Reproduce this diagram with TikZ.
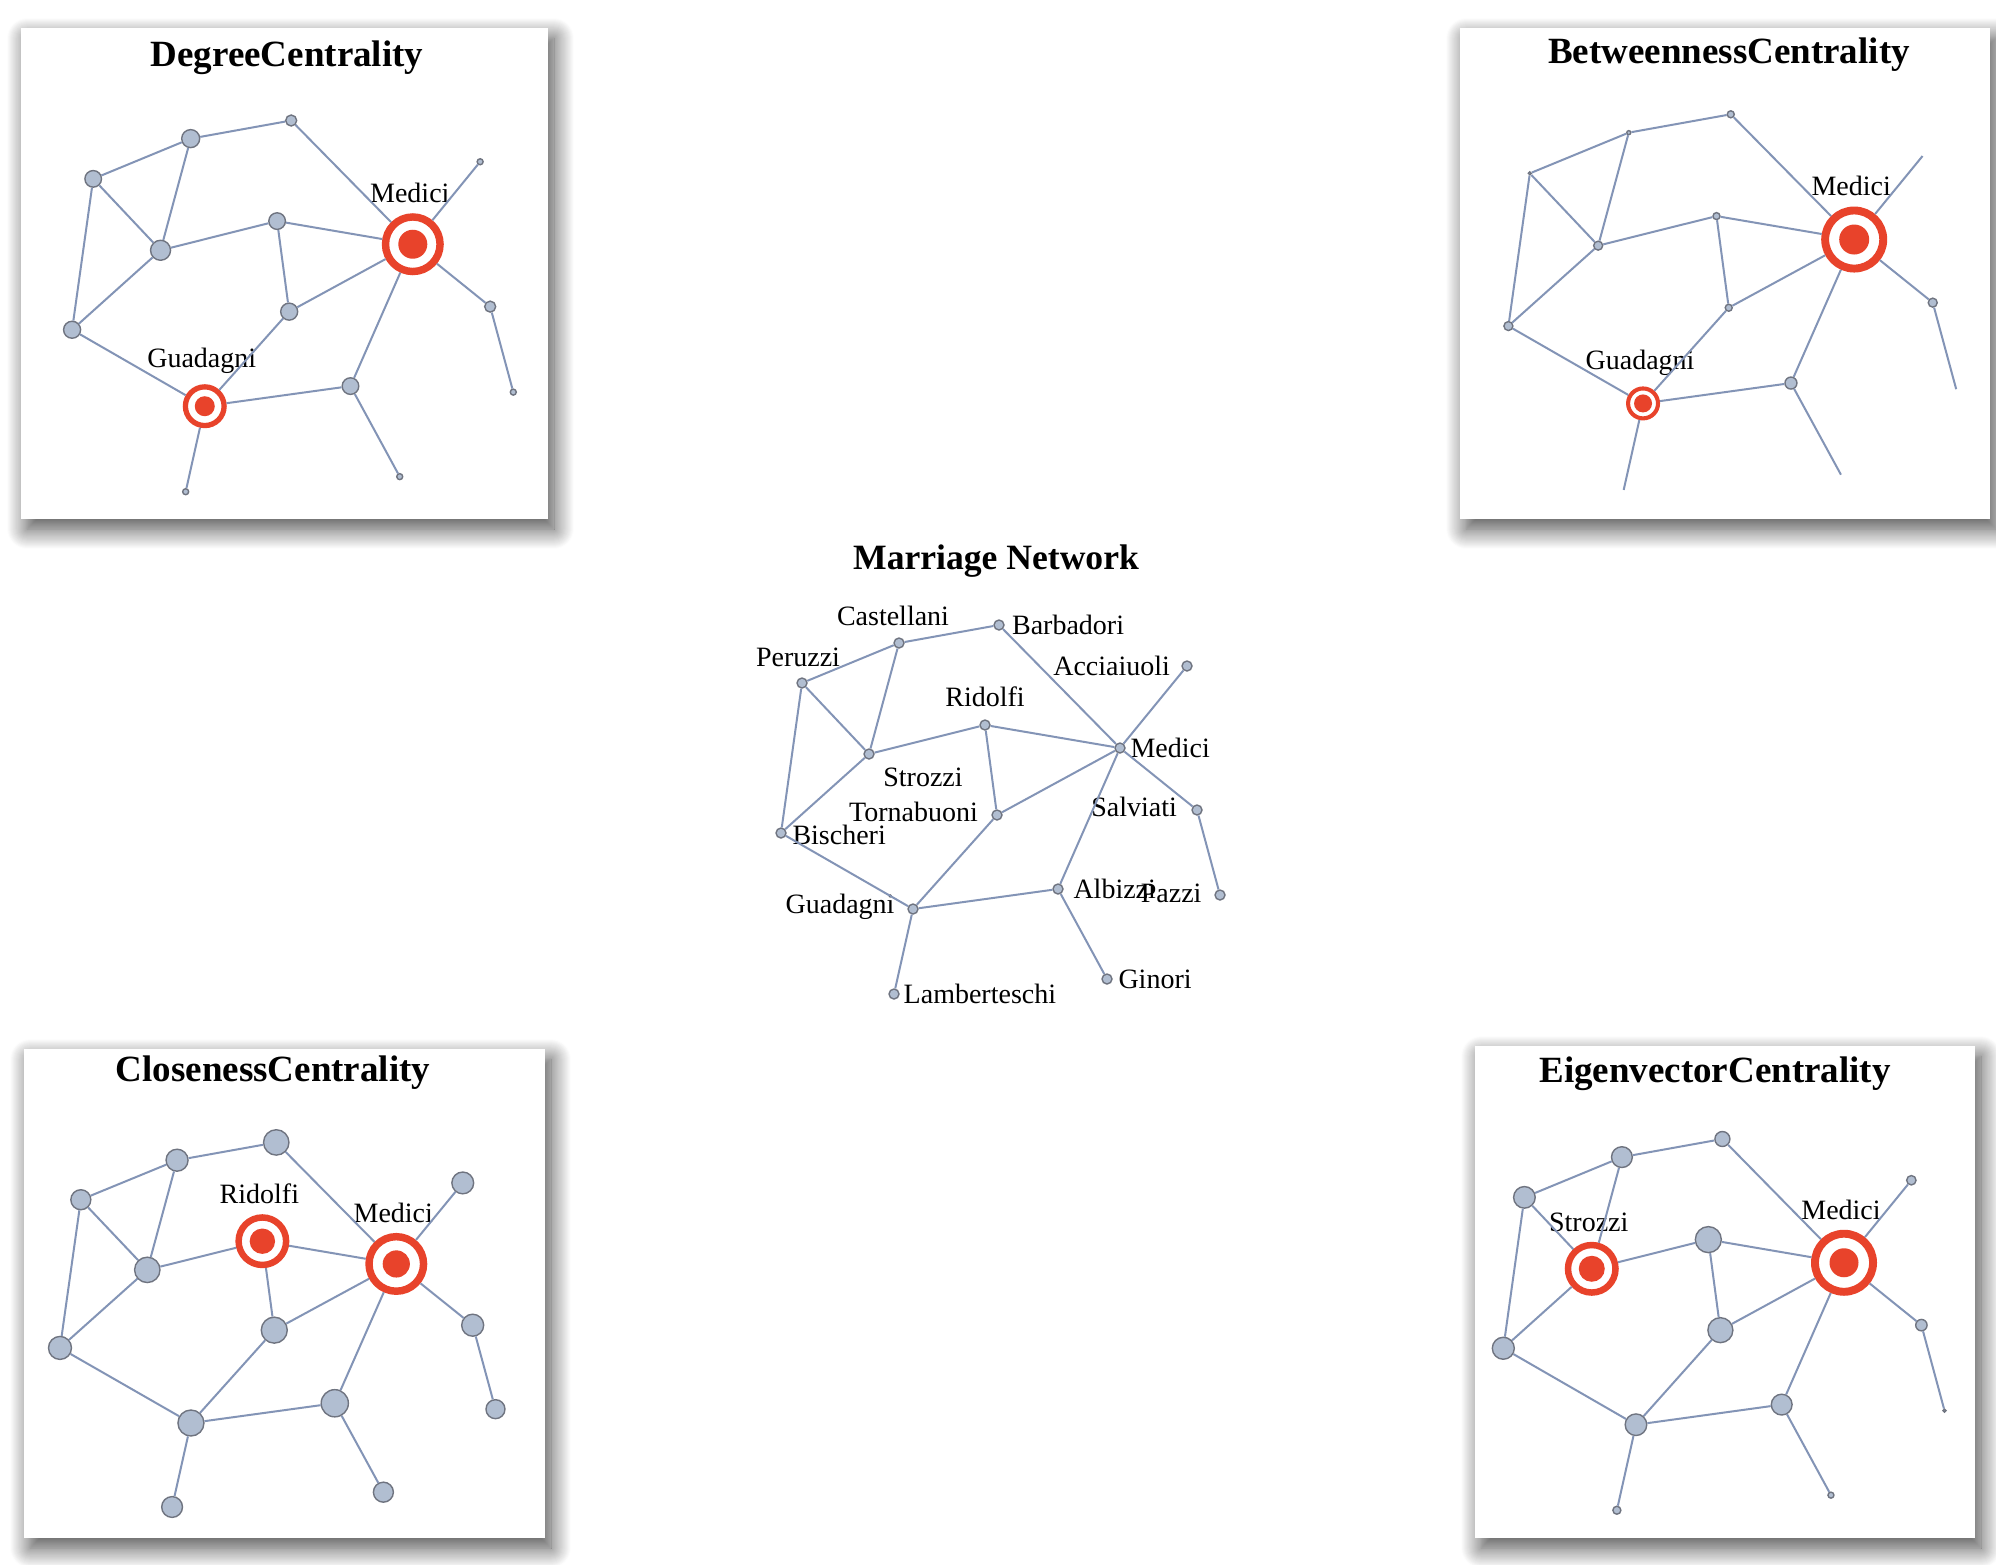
\documentclass[tikz,border=0pt]{standalone}
\usepackage{fontspec}
\setmainfont{Liberation Serif}
\usetikzlibrary{shadows.blur}

\definecolor{tiecol}{HTML}{8394B6}
\definecolor{dotfill}{HTML}{B1BED1}
\definecolor{dotrim}{HTML}{6F7480}
\definecolor{hired}{HTML}{E8432B}

\tikzset{
  tie/.style={draw=tiecol, line width=1pt},
  famdot/.style={circle, draw=dotrim, fill=dotfill, line width=0.7pt, inner sep=0pt, minimum size=#1pt},
  target/.style 2 args={circle, draw=hired, fill=white, inner sep=0pt,
    minimum size=0.88*#1pt, line width=0.12*#1pt,
    path picture={\fill[hired] (path picture bounding box.center) circle (0.5*#2pt);}},
  famtag/.style={font=\fontsize{14}{16}\selectfont, inner sep=0pt},
  paneltitle/.style={font=\bfseries\fontsize{#1}{21}\selectfont, anchor=base, inner sep=0pt},
  paneltitle/.default=18.5,
  panel/.style={fill=white, blur shadow={shadow xshift=3pt, shadow yshift=-5pt,
    shadow blur radius=10pt, shadow blur steps=20, shadow opacity=72}}
}

% layout of the families, relative to Bischeri (x) and Barbadori (y)
\def\famlayout{Castellani/118/18, Barbadori/218/0, Peruzzi/21/58, Acciaiuoli/406/41,
  Ridolfi/204/100, Medici/339/123, Strozzi/88/129, Tornabuoni/216/190, Salviati/416/185,
  Bischeri/0/208, Albizzi/277/264, Pazzi/439/270, Guadagni/132/284, Ginori/326/354,
  Lamberteschi/113/369}
\def\famties{Peruzzi/Castellani, Castellani/Barbadori, Castellani/Strozzi, Peruzzi/Strozzi,
  Peruzzi/Bischeri, Barbadori/Medici, Acciaiuoli/Medici, Strozzi/Ridolfi, Strozzi/Bischeri,
  Ridolfi/Medici, Ridolfi/Tornabuoni, Tornabuoni/Medici, Tornabuoni/Guadagni, Medici/Salviati,
  Salviati/Pazzi, Medici/Albizzi, Bischeri/Guadagni, Guadagni/Albizzi, Guadagni/Lamberteschi,
  Albizzi/Ginori}

% #1 prefix, #2 #3 origin, #4 #5 scale, #6 name/radius, #7 name/ring/dot
\newcommand{\centralitynet}[7]{%
  \foreach \nm/\x/\y in \famlayout
    \coordinate (#1\nm) at ({#2+#4*\x},{#3+#5*\y});
  \foreach \nm/\r in {#6}
    \node[famdot=\r] (#1\nm) at (#1\nm) {};
  \foreach \nm/\R/\r in {#7}
    \node[target={\R}{\r}, label={[famtag, label distance=5pt, xshift=-1.5pt]above:\nm}] (#1\nm) at (#1\nm) {};
  \foreach \a/\b in \famties
    \draw[tie] (#1\a) -- (#1\b);
}

\begin{document}
\begin{tikzpicture}[x=0.5pt, y=-0.5pt]
    \useasboundingbox (0,0) rectangle (1996,1564);

    % panels
    \path[panel] (21,28) rectangle (548,519);
    \path[panel] (1460,28) rectangle (1990,519);
    \path[panel] (24,1049) rectangle (545,1538);
    \path[panel] (1475,1046) rectangle (1975,1538);

    \node[paneltitle] (DC-title) at (287,66) {DegreeCentrality};
    \node[paneltitle] (BC-title) at (1729,63) {BetweennessCentrality};
    \node[paneltitle] (CC-title) at (273,1081) {ClosenessCentrality};
    \node[paneltitle] (EC-title) at (1715,1082) {EigenvectorCentrality};

    \centralitynet{DC-}{72.1}{120.5}{1.005}{1.006}
      {Castellani/9, Barbadori/5.5, Peruzzi/8.3, Acciaiuoli/3, Ridolfi/8.3, Strozzi/10,
       Tornabuoni/8.5, Salviati/5.5, Bischeri/8.5, Albizzi/8.3, Pazzi/3, Ginori/3, Lamberteschi/3}
      {Medici/31/14.5, Guadagni/22/10}
    \centralitynet{BC-}{1508.4}{114.3}{1.02}{1.018}
      {Castellani/2, Barbadori/3.5, Peruzzi/1.5, Ridolfi/3.5, Strozzi/4.5, Tornabuoni/3.5,
       Salviati/4.5, Bischeri/4.5, Albizzi/6}
      {Medici/33/15, Guadagni/17/9}
    \centralitynet{CC-}{60}{1142.4}{0.992}{0.988}
      {Castellani/11, Barbadori/12.7, Peruzzi/10, Acciaiuoli/10.9, Strozzi/12.7, Tornabuoni/13,
       Salviati/11, Bischeri/11.5, Albizzi/13.6, Pazzi/9.5, Guadagni/13, Ginori/10, Lamberteschi/10.4}
      {Ridolfi/27/12.7, Medici/31/13.6}
    \centralitynet{EC-}{1503.3}{1139}{1.005}{1.006}
      {Castellani/10.4, Barbadori/7.5, Peruzzi/10.8, Acciaiuoli/4.7, Ridolfi/13, Tornabuoni/12.5,
       Salviati/5.7, Bischeri/11, Albizzi/10.4, Pazzi/1.5, Guadagni/10.8, Ginori/3, Lamberteschi/4}
      {Strozzi/27/13, Medici/33/14.5}

    % marriage network
    \node[paneltitle=17.8] (net-title) at (996,569) {Marriage Network};
    \node[famdot=5, label={[famtag, label distance=5.5pt, xshift=-3pt]above:Castellani}] (Castellani) at (899,643) {};
    \node[famdot=5, label={[famtag, label distance=3.5pt]right:Barbadori}] (Barbadori) at (999,625) {};
    \node[famdot=5, label={[famtag, label distance=5pt, xshift=-2pt]above:Peruzzi}] (Peruzzi) at (802,683) {};
    \node[famdot=5, label={[famtag, label distance=5.5pt]left:Acciaiuoli}] (Acciaiuoli) at (1187,666) {};
    \node[famdot=5, label={[famtag, label distance=6pt]above:Ridolfi}] (Ridolfi) at (985,725) {};
    \node[famdot=5, label={[famtag, label distance=2.2pt]right:Medici}] (Medici) at (1120,748) {};
    \node[famdot=5, label={[famtag, label distance=7pt]below right:Strozzi}] (Strozzi) at (869,754) {};
    \node[famdot=5, label={[famtag, label distance=6.5pt, yshift=1.5pt]left:Tornabuoni}] (Tornabuoni) at (997,815) {};
    \node[famdot=5, label={[famtag, label distance=7pt, yshift=1.5pt]left:Salviati}] (Salviati) at (1197,810) {};
    \node[famdot=5, label={[famtag, label distance=2.7pt, yshift=-1pt]right:Bischeri}] (Bischeri) at (781,833) {};
    \node[famdot=5, label={[famtag, label distance=4.7pt]right:Albizzi}] (Albizzi) at (1058,889) {};
    \node[famdot=5, label={[famtag, label distance=6.2pt, yshift=1pt]left:Pazzi}] (Pazzi) at (1220,895) {};
    \node[famdot=5, label={[famtag, label distance=6.2pt, yshift=1pt]left:Guadagni}] (Guadagni) at (913,909) {};
    \node[famdot=5, label={[famtag, label distance=2.7pt]right:Ginori}] (Ginori) at (1107,979) {};
    \node[famdot=5, label={[famtag, label distance=1.8pt]right:Lamberteschi}] (Lamberteschi) at (894,994) {};

    \foreach \a/\b in \famties
      \draw[tie] (\a) -- (\b);
\end{tikzpicture}
\end{document}
